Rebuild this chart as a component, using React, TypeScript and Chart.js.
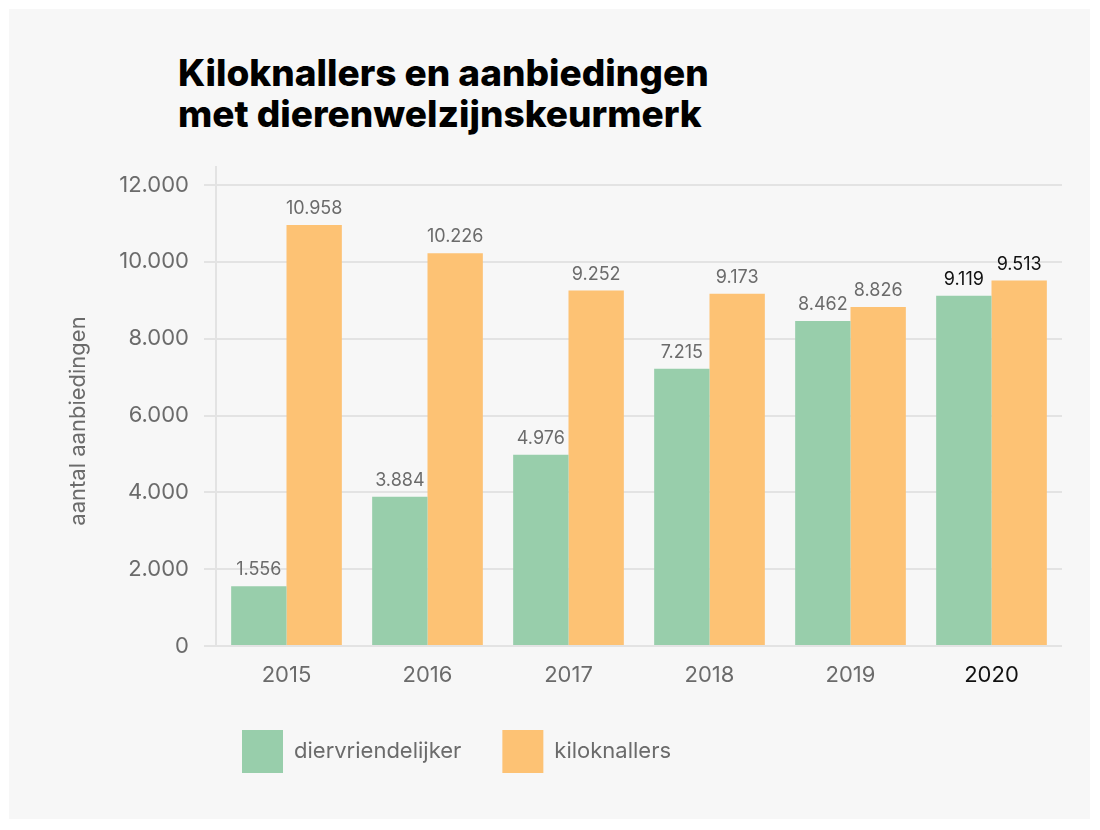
import React, { useEffect, useRef } from 'react';
import { Chart, registerables } from 'chart.js';

Chart.register(...registerables);

const titleLines = ['Kiloknallers en aanbiedingen', 'met dierenwelzijnskeurmerk'];
const categories = ['2015', '2016', '2017', '2018', '2019', '2020'];
const diervriendelijker = [1556, 3884, 4976, 7215, 8462, 9119];
const kiloknallers = [10958, 10226, 9252, 9173, 8826, 9513];
const seriesNames = ['diervriendelijker', 'kiloknallers'];
const yTickValues = [0, 2000, 4000, 6000, 8000, 10000, 12000];
const yAxisTitle = 'aantal aanbiedingen';
const highlightCategory = '2020';

const GREEN = '#98ceab';
const ORANGE = '#fdc274';
const GRAY = '#6b6b6b';
const DARK = '#111111';
const GRID = '#e3e3e3';
const FONT = 'Inter, "Noto Sans", sans-serif';

const fmt = (v: number) => String(Math.round(v)).replace(/\B(?=(\d{3})+(?!\d))/g, '.');

const valueLabels = {
  id: 'valueLabels',
  afterDatasetsDraw(chart: any) {
    const { ctx } = chart;
    ctx.save();
    ctx.font = `400 18px ${FONT}`;
    ctx.textAlign = 'center';
    ctx.textBaseline = 'alphabetic';
    chart.data.datasets.forEach((ds: any, di: number) => {
      const meta = chart.getDatasetMeta(di);
      meta.data.forEach((el: any, i: number) => {
        ctx.fillStyle = categories[i] === highlightCategory ? DARK : GRAY;
        ctx.fillText(fmt(ds.data[i]), el.x, el.y - 11);
      });
    });
    ctx.restore();
  },
};

const yTitle = {
  id: 'yTitle',
  afterDraw(chart: any) {
    const { ctx } = chart;
    ctx.save();
    ctx.translate(69, 412);
    ctx.rotate(-Math.PI / 2);
    ctx.font = `400 22px ${FONT}`;
    ctx.fillStyle = GRAY;
    ctx.textAlign = 'center';
    ctx.textBaseline = 'middle';
    ctx.fillText(yAxisTitle, 0, 0);
    ctx.restore();
  },
};

export default function App() {
  const ref = useRef<HTMLCanvasElement>(null);

  useEffect(() => {
    if (!ref.current) return;
    const chart = new Chart(ref.current, {
      type: 'bar',
      data: {
        labels: categories,
        datasets: [
          {
            label: seriesNames[0],
            data: diervriendelijker,
            backgroundColor: GREEN,
            borderWidth: 0,
          },
          {
            label: seriesNames[1],
            data: kiloknallers,
            backgroundColor: ORANGE,
            borderWidth: 0,
          },
        ],
      },
      options: {
        responsive: false,
        animation: false,
        devicePixelRatio: 1,
        datasets: { bar: { categoryPercentage: 0.785, barPercentage: 1.0 } },
        layout: { padding: { left: 55, right: 28, top: 158, bottom: 37 } },
        plugins: {
          tooltip: { enabled: false },
          title: { display: false },
          legend: {
            display: true,
            position: 'bottom',
            align: 'start',
            fullSize: false,
            labels: {
              boxWidth: 41,
              boxHeight: 43,
              padding: 26,
              color: GRAY,
              font: { family: FONT, size: 22 },
              generateLabels: (chart: any) =>
                chart.data.datasets.map((ds: any, i: number) => ({
                  text: ds.label + '\u2002\u2009',
                  fillStyle: ds.backgroundColor,
                  strokeStyle: ds.backgroundColor,
                  lineWidth: 0,
                  fontColor: GRAY,
                  hidden: false,
                  datasetIndex: i,
                })),
            },
          },
        },
        scales: {
          x: {
            grid: { display: false, drawTicks: false },
            border: { display: false },
            ticks: {
              padding: 16,
              font: { family: FONT, size: 22 },
              color: (c: any) => (categories[c.index] === highlightCategory ? DARK : GRAY),
            },
            afterFit: (s: any) => {
              s.height = 58;
            },
          },
          y: {
            min: 0,
            max: 12470,
            grid: { color: GRID, lineWidth: 2, tickLength: 12, drawTicks: true },
            border: { display: true, color: GRID, width: 2 },
            ticks: {
              stepSize: 2000,
              includeBounds: false,
              padding: 15,
              color: GRAY,
              font: { family: FONT, size: 22 },
              callback: (v: any) => fmt(Number(v)),
            },
            afterBuildTicks: (s: any) => {
              s.ticks = yTickValues.map((v) => ({ value: v }));
            },
            afterFit: (s: any) => {
              s.width = 152;
            },
          },
        },
      },
      plugins: [valueLabels, yTitle],
    });
    return () => chart.destroy();
  }, []);

  return (
    <div
      style={{
        position: 'relative',
        left: 1,
        top: 1,
        width: 1081,
        height: 811,
        background: '#f7f7f7',
      }}
    >
      <div
        style={{
          position: 'absolute',
          left: 169,
          top: 43,
          fontFamily: FONT,
          fontWeight: 800,
          fontSize: 37,
          lineHeight: '41px',
          color: '#000',
          whiteSpace: 'nowrap',
        }}
      >
        {titleLines.map((t) => (
          <div key={t}>{t}</div>
        ))}
      </div>
      <canvas
        ref={ref}
        width={1081}
        height={811}
        style={{ position: 'absolute', left: 0, top: 0, width: 1081, height: 811 }}
      />
    </div>
  );
}
